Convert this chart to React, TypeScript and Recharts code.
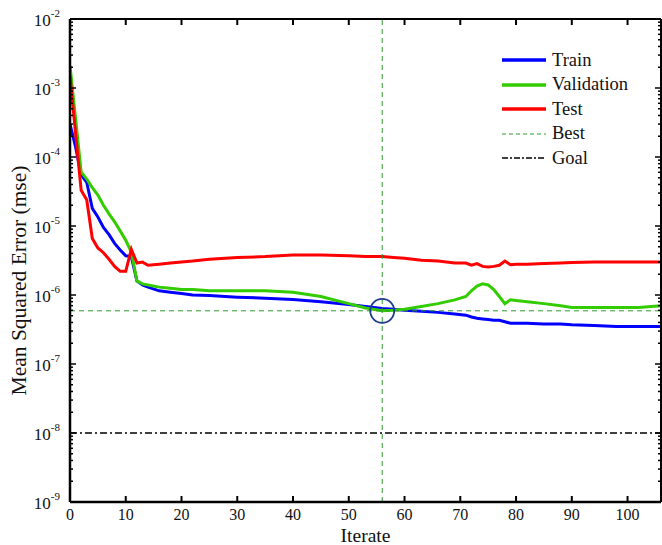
import React from "react";
import {
  ComposedChart,
  Line,
  XAxis,
  YAxis,
  ReferenceLine,
  ReferenceDot,
} from "recharts";

const epochs = [
  0, 1, 2, 3, 4, 5, 6, 7, 8, 9, 10, 11, 12, 13, 14, 16, 18, 20, 22, 25, 30, 35,
  40, 45, 50, 53, 56, 58, 60, 63, 66, 69, 71, 72, 73, 74, 75, 76, 77, 78, 79,
  80, 82, 85, 88, 90, 94, 98, 102, 106,
];

const trainMse = [
  3e-4, 1.4e-4, 5.5e-5, 4.3e-5, 1.8e-5, 1.35e-5, 9.5e-6, 7.5e-6, 5.6e-6, 4.5e-6,
  3.7e-6, 3.6e-6, 1.6e-6, 1.4e-6, 1.3e-6, 1.15e-6, 1.1e-6, 1.05e-6, 1.0e-6,
  9.8e-7, 9.3e-7, 9.0e-7, 8.6e-7, 8.0e-7, 7.3e-7, 6.8e-7, 6.4e-7, 6.2e-7, 6.0e-7,
  5.8e-7, 5.6e-7, 5.3e-7, 5.1e-7, 4.8e-7, 4.6e-7, 4.5e-7, 4.4e-7, 4.3e-7, 4.3e-7,
  4.1e-7, 3.9e-7, 3.9e-7, 3.9e-7, 3.8e-7, 3.8e-7, 3.7e-7, 3.6e-7, 3.5e-7, 3.5e-7,
  3.5e-7,
];

const validationMse = [
  2.1e-3, 3.6e-4, 6.1e-5, 4.8e-5, 3.6e-5, 2.8e-5, 2.0e-5, 1.5e-5, 1.15e-5,
  8.5e-6, 6.2e-6, 4.2e-6, 1.6e-6, 1.45e-6, 1.4e-6, 1.3e-6, 1.25e-6, 1.2e-6,
  1.2e-6, 1.15e-6, 1.15e-6, 1.15e-6, 1.1e-6, 9.5e-7, 7.5e-7, 6.5e-7, 5.9e-7,
  6.0e-7, 6.2e-7, 6.8e-7, 7.5e-7, 8.5e-7, 9.5e-7, 1.15e-6, 1.35e-6, 1.45e-6,
  1.4e-6, 1.2e-6, 9.5e-7, 7.5e-7, 8.5e-7, 8.3e-7, 8.0e-7, 7.5e-7, 7.0e-7, 6.6e-7,
  6.6e-7, 6.6e-7, 6.6e-7, 7.0e-7,
];

const testMse = [
  1.5e-3, 2.2e-4, 3.3e-5, 2.4e-5, 6.6e-6, 4.8e-6, 4.1e-6, 3.3e-6, 2.6e-6, 2.2e-6,
  2.2e-6, 4.6e-6, 2.9e-6, 3.0e-6, 2.7e-6, 2.8e-6, 2.9e-6, 3.0e-6, 3.1e-6, 3.3e-6,
  3.5e-6, 3.6e-6, 3.8e-6, 3.8e-6, 3.7e-6, 3.6e-6, 3.6e-6, 3.5e-6, 3.4e-6, 3.2e-6,
  3.1e-6, 2.9e-6, 2.9e-6, 2.7e-6, 2.85e-6, 2.6e-6, 2.55e-6, 2.6e-6, 2.7e-6,
  3.1e-6, 2.75e-6, 2.8e-6, 2.8e-6, 2.85e-6, 2.9e-6, 2.95e-6, 3.0e-6, 3.0e-6,
  3.0e-6, 3.0e-6,
];

const bestEpoch = 56;
const goalMse = 1e-8;

const xTicks = [0, 10, 20, 30, 40, 50, 60, 70, 80, 90, 100];
const yMajorTicks = [1e-9, 1e-8, 1e-7, 1e-6, 1e-5, 1e-4, 1e-3, 1e-2];
const legendLabels = ["Train", "Validation", "Test", "Best", "Goal"];

const bestMse = validationMse[epochs.indexOf(bestEpoch)];

const rows = epochs.map((epoch, i) => ({
  epoch,
  train: trainMse[i],
  validation: validationMse[i],
  test: testMse[i],
}));

// minor log ticks 2..9 x 10^k between the major ones
const yTicks: number[] = [];
yMajorTicks.forEach((t, i) => {
  yTicks.push(t);
  if (i < yMajorTicks.length - 1) {
    for (let m = 2; m <= 9; m++) yTicks.push(Number((m * t).toPrecision(3)));
  }
});

const FONT = "'Liberation Serif', 'Times New Roman', serif";
const BLUE = "#0000ff";
const GREEN = "#33cc00";
const RED = "#ff0000";
const BEST = "#2e9b2e";

const isMajor = (v: number) => {
  const lg = Math.log10(v);
  return Math.abs(lg - Math.round(lg)) < 1e-6;
};

const LeftTick = (props: any) => {
  const { x, y, payload } = props;
  const major = isMajor(payload.value);
  const exp = Math.round(Math.log10(payload.value));
  return (
    <g>
      <path d={`M${x},${y}h${major ? 6 : 3}`} stroke="#000" strokeWidth={1.5} fill="none" />
      {major && (
        <text x={x - 10} y={y + 7} textAnchor="end" fontFamily={FONT} fontSize={17} fill="#111">
          <tspan>10</tspan>
          <tspan dy={-9} fontSize={11}>
            {exp}
          </tspan>
        </text>
      )}
    </g>
  );
};

const RightTick = (props: any) => {
  const { x, y, payload } = props;
  const major = isMajor(payload.value);
  return <path d={`M${x},${y}h${major ? -6 : -3}`} stroke="#000" strokeWidth={1.5} fill="none" />;
};

const BottomTick = (props: any) => {
  const { x, y, payload } = props;
  return (
    <g>
      <path d={`M${x},${y}v-6`} stroke="#000" strokeWidth={2} fill="none" />
      <text x={x} y={y + 18} textAnchor="middle" fontFamily={FONT} fontSize={16} fill="#111">
        {payload.value}
      </text>
    </g>
  );
};

const TopTick = (props: any) => {
  const { x, y } = props;
  return <path d={`M${x},${y}v6`} stroke="#000" strokeWidth={2} fill="none" />;
};

const legendStyles = [
  { stroke: BLUE, width: 3.5, dash: undefined },
  { stroke: GREEN, width: 3.5, dash: undefined },
  { stroke: RED, width: 3.5, dash: undefined },
  { stroke: BEST, width: 1, dash: "4 3" },
  { stroke: "#000", width: 1.5, dash: "6 2 2 2" },
];

const LegendBox = () => (
  <div style={{ position: "absolute", left: 500, top: 48, fontFamily: FONT, fontSize: 18.5 }}>
    {legendLabels.map((label, i) => (
      <div key={label} style={{ display: "flex", alignItems: "center", height: 24.5 }}>
        <svg width={50} height={10} style={{ display: "block" }}>
          <line
            x1={2}
            y1={5}
            x2={46}
            y2={5}
            stroke={legendStyles[i].stroke}
            strokeWidth={legendStyles[i].width}
            strokeDasharray={legendStyles[i].dash}
          />
        </svg>
        <span style={{ color: "#111", marginLeft: 2 }}>{label}</span>
      </div>
    ))}
  </div>
);

export default function App() {
  return (
    <div style={{ position: "relative", width: 662, height: 545, background: "#fff" }}>
      <style>{"body{margin:0}"}</style>
      <ComposedChart
        width={662}
        height={545}
        data={rows}
        margin={{ top: 18, right: 0, bottom: 0, left: 0 }}
      >
        <XAxis
          dataKey="epoch"
          type="number"
          domain={[0, 106]}
          ticks={xTicks}
          interval={0}
          allowDataOverflow
          height={43}
          tickSize={0}
          tickMargin={0}
          tickLine={false}
          tick={<BottomTick />}
          stroke="#000"
          axisLine={{ stroke: "#000", strokeWidth: 2.5 }}
          label={{
            value: "Iterate",
            position: "insideBottom",
            offset: 3,
            style: { fontFamily: FONT, fontSize: 19.5, fill: "#111" },
          }}
        />
        <XAxis
          xAxisId="top"
          orientation="top"
          dataKey="epoch"
          type="number"
          domain={[0, 106]}
          ticks={xTicks}
          interval={0}
          allowDataOverflow
          height={1}
          tickSize={0}
          tickMargin={0}
          tickLine={false}
          tick={<TopTick />}
          stroke="#000"
          axisLine={{ stroke: "#000", strokeWidth: 2 }}
        />
        <YAxis
          scale="log"
          type="number"
          domain={[1e-9, 1e-2]}
          ticks={yTicks}
          interval={0}
          allowDataOverflow
          width={70}
          tickSize={0}
          tickMargin={0}
          tickLine={false}
          tick={<LeftTick />}
          stroke="#000"
          axisLine={{ stroke: "#000", strokeWidth: 2.5 }}
          label={{
            value: "Mean Squared Error  (mse)",
            angle: -90,
            position: "insideLeft",
            offset: 0,
            dx: 18,
            dy: 20,
            style: { fontFamily: FONT, fontSize: 21.5, fill: "#111", textAnchor: "middle", whiteSpace: "pre" },
          }}
        />
        <YAxis
          yAxisId="right"
          orientation="right"
          scale="log"
          type="number"
          domain={[1e-9, 1e-2]}
          ticks={yTicks}
          interval={0}
          allowDataOverflow
          width={1}
          tickSize={0}
          tickMargin={0}
          tickLine={false}
          tick={<RightTick />}
          stroke="#000"
          axisLine={{ stroke: "#000", strokeWidth: 2 }}
        />
        <Line
          dataKey="train"
          type="linear"
          stroke={BLUE}
          strokeWidth={3}
          dot={false}
          isAnimationActive={false}
        />
        <Line
          dataKey="validation"
          type="linear"
          stroke={GREEN}
          strokeWidth={3}
          dot={false}
          isAnimationActive={false}
        />
        <Line
          dataKey="test"
          type="linear"
          stroke={RED}
          strokeWidth={3}
          dot={false}
          isAnimationActive={false}
        />
        <ReferenceLine x={bestEpoch} stroke={BEST} strokeWidth={1} strokeDasharray="5 4" />
        <ReferenceLine y={bestMse} stroke={BEST} strokeWidth={1} strokeDasharray="5 4" />
        <ReferenceLine y={goalMse} stroke="#000" strokeWidth={1.5} strokeDasharray="7 3 2 3" />
        <ReferenceDot
          x={bestEpoch}
          y={bestMse}
          r={12}
          fill="none"
          stroke="#1f3d8f"
          strokeWidth={1.8}
        />
      </ComposedChart>
      <LegendBox />
    </div>
  );
}
